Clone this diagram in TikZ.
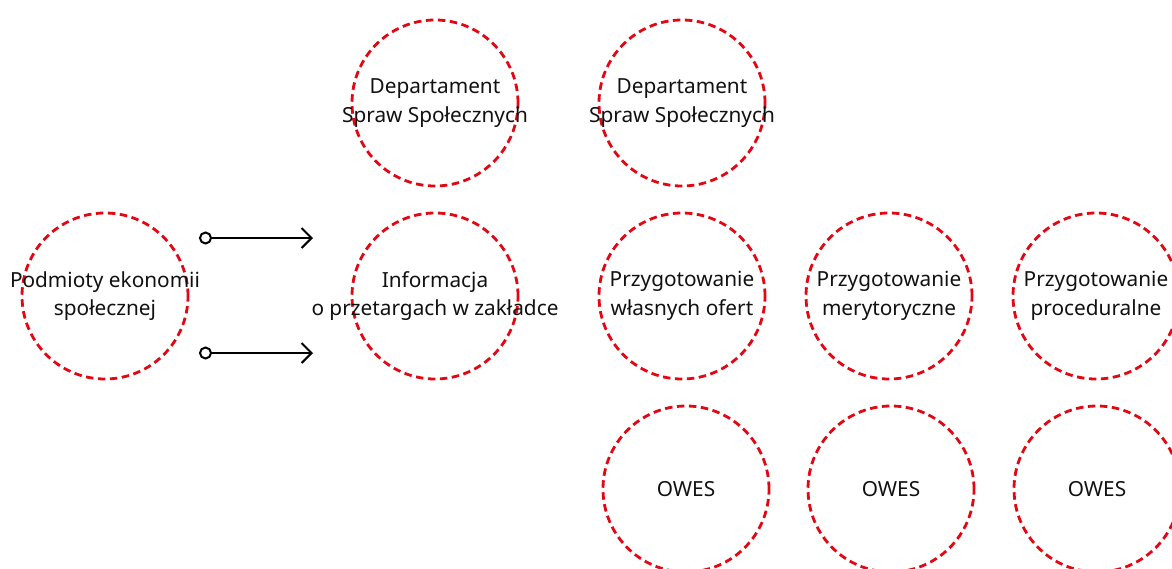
\documentclass[tikz,border=0pt]{standalone}
\usepackage{fontspec}
\setmainfont{Noto Sans}
\usetikzlibrary{arrows.meta}
\definecolor{dred}{RGB}{227,6,19}
\definecolor{txtc}{RGB}{17,17,17}
\begin{document}
\begin{tikzpicture}[x=1pt,y=-1pt,
  bub/.style={circle, draw=dred, line width=2.8pt, dash pattern=on 7.5pt off 4.5pt, minimum size=166pt, inner sep=0pt},
  txt/.style={align=center, text=txtc, font=\fontsize{20.8}{28.5}\selectfont, inner sep=0pt},
  conn/.style={line width=2pt, {Circle[open,length=13pt,width=13pt,line width=2pt]}-{Straight Barb[length=10pt,width=20pt,line width=2pt]}}
]
\useasboundingbox (0,0) rectangle (1172,568);
% circles
\node[bub] (c1) at (105,296) {};
\node[bub] (c2) at (435,103) {};
\node[bub] (c3) at (682,103) {};
\node[bub] (c4) at (435,296) {};
\node[bub] (c5) at (682,296) {};
\node[bub] (c6) at (889,296) {};
\node[bub] (c7) at (1096,296) {};
\node[bub] (c8) at (686,489) {};
\node[bub] (c9) at (891,489) {};
\node[bub] (c10) at (1097,489) {};
% texts
\node[txt] (t1) at (c1) {Podmioty ekonomii\\społecznej};
\node[txt] (t2) at (c2) {Departament\\Spraw Społecznych};
\node[txt] (t3) at (c3) {Departament\\Spraw Społecznych};
\node[txt] (t4) at (c4) {Informacja\\o przetargach w zakładce};
\node[txt] (t5) at (c5) {Przygotowanie\\własnych ofert};
\node[txt] (t6) at (c6) {Przygotowanie\\merytoryczne};
\node[txt] (t7) at (c7) {Przygotowanie\\proceduralne};
\node[txt] (t8) at (c8) {OWES};
\node[txt] (t9) at (c9) {OWES};
\node[txt] (t10) at (c10) {OWES};
% arrows
\coordinate (a1s) at (199,238);
\coordinate (a1e) at (313,238);
\coordinate (a2s) at (199,353);
\coordinate (a2e) at (313,353);
\draw[conn] (a1s) -- (a1e);
\draw[conn] (a2s) -- (a2e);
\end{tikzpicture}
\end{document}
